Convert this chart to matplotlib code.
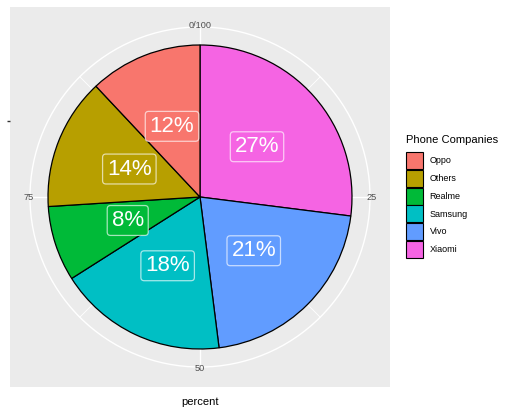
import numpy as np
import matplotlib
matplotlib.use("Agg")
import matplotlib.pyplot as plt
from matplotlib.patches import Patch, Circle

plt.rcParams['font.family'] = ['Liberation Sans', 'DejaVu Sans']

# data, in pie order (clockwise from the top)
companies = ["Xiaomi", "Vivo", "Samsung", "Realme", "Others", "Oppo"]
percent = [27, 21, 18, 8, 14, 12]
colors = {"Oppo": "#F8766D", "Others": "#B79F00", "Realme": "#00BA38",
          "Samsung": "#00BFC4", "Vivo": "#619CFF", "Xiaomi": "#F564E3"}
legend_order = ["Oppo", "Others", "Realme", "Samsung", "Vivo", "Xiaomi"]
theta_breaks = [0, 25, 50, 75]
theta_labels = ["0/100", "25", "50", "75"]

W, H = 507, 416
fig = plt.figure(figsize=(W / 100, H / 100), dpi=100)
ax = fig.add_axes([10 / W, 29 / H, 380 / W, 380 / H])
ax.set_facecolor("#EBEBEB")

R_grid = 170 / 152
# polar grid: outer circle + major/minor spokes
ax.add_patch(Circle((0, 0), R_grid, fill=False, ec="white", lw=1.0, zorder=0.5))
for p in np.arange(0, 100, 12.5):
    a = np.deg2rad(90 - p * 3.6)
    lw = 1.0 if p % 25 == 0 else 0.6
    ax.plot([0, R_grid * np.cos(a)], [0, R_grid * np.sin(a)], color="white",
            lw=lw, zorder=0.5)

wedges, _ = ax.pie(percent, colors=[colors[c] for c in companies],
                   startangle=90, counterclock=False, radius=1,
                   wedgeprops=dict(edgecolor="black", linewidth=0.9),
                   frame=True)

for w, c, v in zip(wedges, companies, percent):
    mid = np.deg2rad((w.theta1 + w.theta2) / 2)
    ax.text(0.5 * np.cos(mid), 0.5 * np.sin(mid), f"{v}%", color="white",
            fontsize=16, ha="center", va="center", zorder=5,
            bbox=dict(boxstyle="round,pad=0.2,rounding_size=0.15",
                      fc=colors[c], ec=(1, 1, 1, 0.65), lw=0.9))

for p, lab in zip(theta_breaks, theta_labels):
    a = np.deg2rad(90 - p * 3.6)
    ax.text(1.128 * np.cos(a), 1.128 * np.sin(a), lab, color="#4D4D4D",
            fontsize=6.6, ha="center", va="center")

lim = 190 / 152
ax.set_xlim(-lim, lim)
ax.set_ylim(-lim, lim)
ax.set_aspect("equal")
for s in ax.spines.values():
    s.set_visible(False)
ax.set_xticks([])
ax.set_yticks([0.5])
ax.set_yticklabels([""])
ax.tick_params(axis="y", length=2.5, width=1, color="#333333")
ax.set_xlabel("percent", fontsize=8, labelpad=7.5)

handles = [Patch(fc=colors[c], ec="black", lw=0.8) for c in legend_order]
leg = fig.legend(handles, legend_order, loc="upper left",
                 bbox_to_anchor=(406 / W, 1 - 135 / H), frameon=False,
                 title="Phone Companies", title_fontsize=8, fontsize=6.5,
                 handlelength=1.9, handleheight=2.53, labelspacing=0.08,
                 handletextpad=0.7, borderpad=0, borderaxespad=0,
                 alignment="left")
leg._legend_box.sep = 5  # a bit more room under the title

fig.savefig("out.png", dpi=100)
